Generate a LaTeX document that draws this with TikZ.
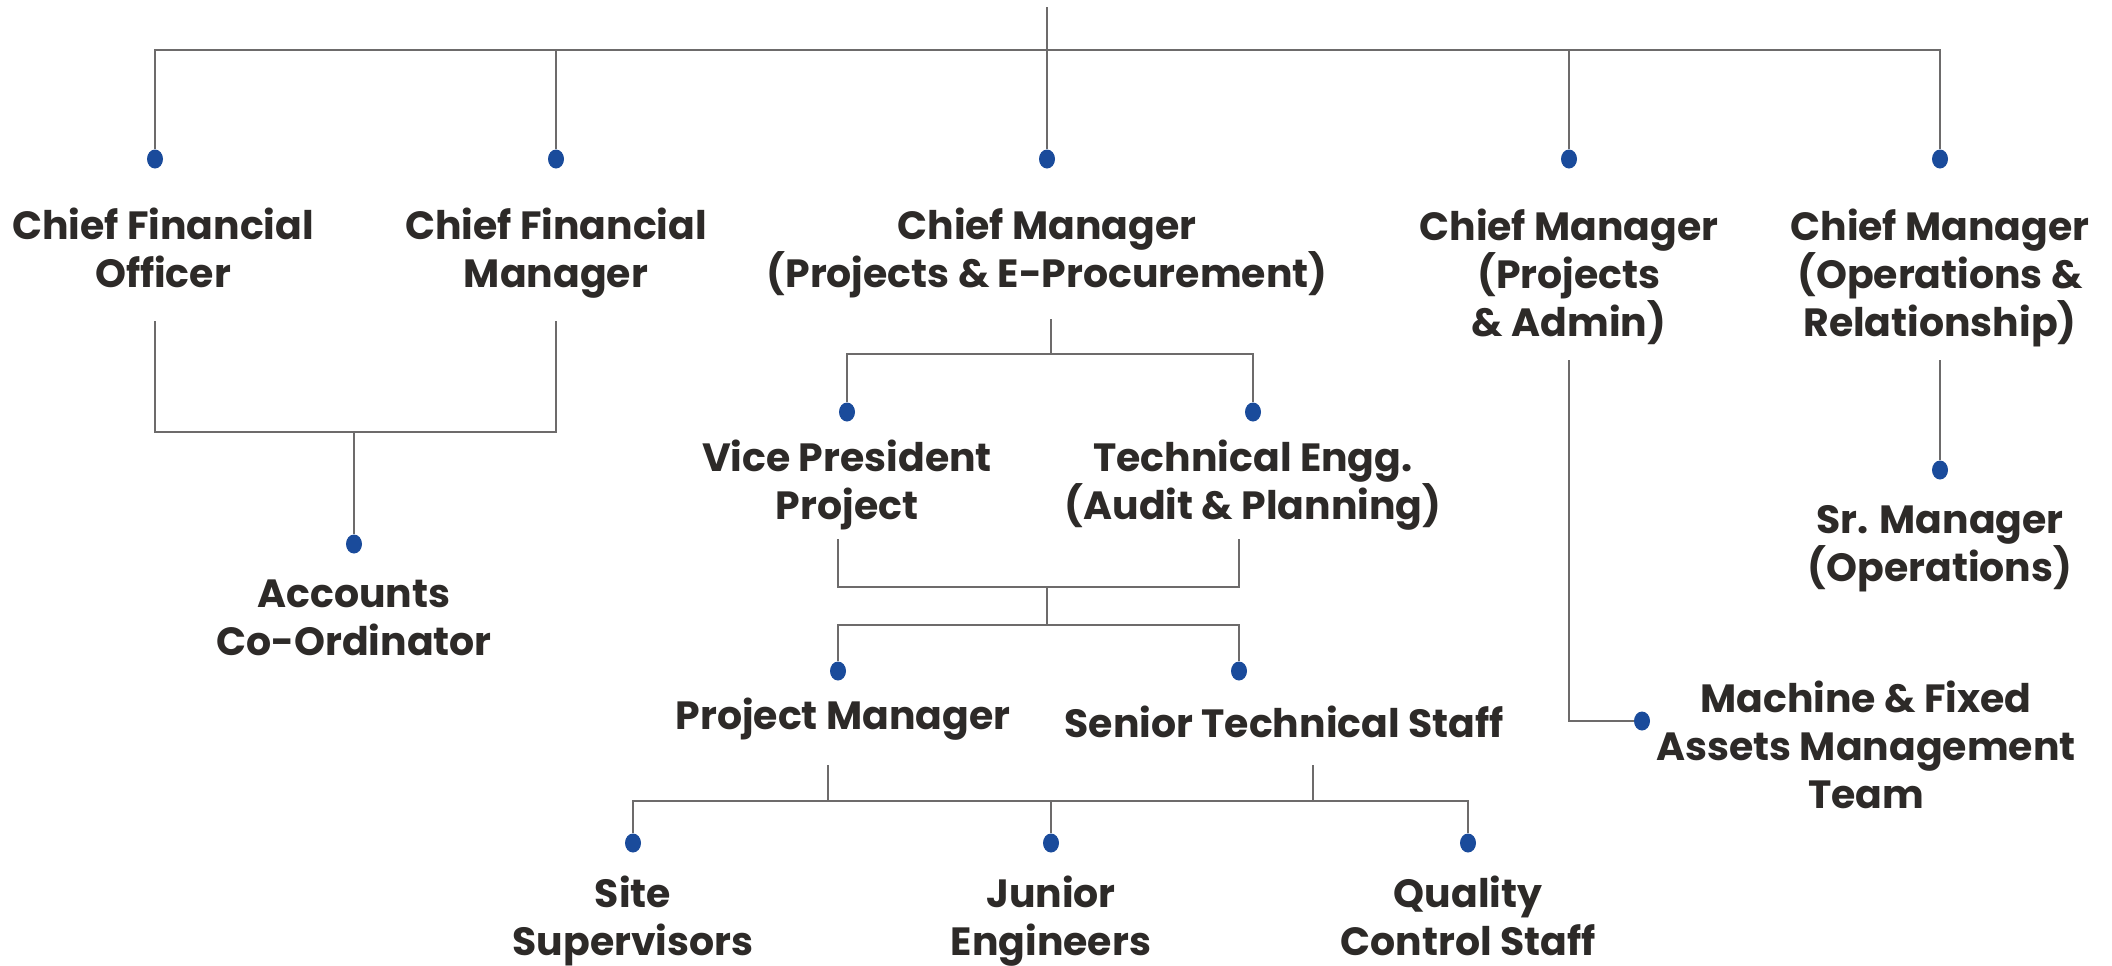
\documentclass[tikz,border=0pt]{standalone}
\usepackage{fontspec}
\setmainfont{Poppins}
\usetikzlibrary{shapes.geometric}
\definecolor{lncol}{HTML}{6D6B6B}
\definecolor{dotcol}{HTML}{1A4B9B}
\definecolor{txtcol}{HTML}{2D2A28}
\tikzset{
  ln/.style={draw=lncol, line width=1.3pt},
  dotnode/.style={ellipse, fill=dotcol, inner sep=0pt, minimum width=8pt, minimum height=9.5pt},
  lbl/.style={align=center, text=txtcol, font=\fontsize{19.7}{24.2}\selectfont\bfseries, inner sep=0pt,
    execute at begin node=\strut, execute at end node=\strut}
}
\begin{document}
\begin{tikzpicture}[x=0.5pt, y=-0.5pt]
\useasboundingbox (0,0) rectangle (2112,965);
% dots
\node[dotnode] (d1) at (155,159) {};
\node[dotnode] (d2) at (556,159) {};
\node[dotnode] (d3) at (1047,159) {};
\node[dotnode] (d4) at (1569,159) {};
\node[dotnode] (d5) at (1940,159) {};
\node[dotnode] (dacc) at (354,544) {};
\node[dotnode] (dvp) at (847,412) {};
\node[dotnode] (dte) at (1253,412) {};
\node[dotnode] (dpm) at (838,671) {};
\node[dotnode] (dsts) at (1239,671) {};
\node[dotnode] (dss) at (633,843) {};
\node[dotnode] (dje) at (1051,843) {};
\node[dotnode] (dqc) at (1468,843) {};
\node[dotnode] (dmf) at (1642,721) {};
\node[dotnode] (dsr) at (1940,470) {};
% labels
\node[lbl] (cfo) at (163,255) {Chief Financial\\Officer};
\node[lbl] (cfm) at (556,255) {Chief Financial\\Manager};
\node[lbl] (cmpe) at (1047,255) {Chief Manager\\(Projects \& E-Procurement)};
\node[lbl] (cmpa) at (1569,280) {Chief Manager\\(Projects\\\& Admin)};
\node[lbl] (cmor) at (1940,280) {Chief Manager\\(Operations \&\\Relationship)};
\node[lbl] (acc) at (354,625) {Accounts\\Co-Ordinator};
\node[lbl] (vp) at (847,487) {Vice President\\Project};
\node[lbl] (te) at (1253,487) {Technical Engg.\\(Audit \& Planning)};
\node[lbl] (pm) at (843,720) {Project Manager};
\node[lbl] (sts) at (1284,728) {Senior Technical Staff};
\node[lbl] (ss) at (633,923) {Site\\Supervisors};
\node[lbl] (je) at (1051,923) {Junior\\Engineers};
\node[lbl] (qc) at (1468,923) {Quality\\Control Staff};
\node[lbl] (mf) at (1866,752) {Machine \& Fixed\\Assets Management\\Team};
\node[lbl] (sr) at (1940,551) {Sr. Manager\\(Operations)};
% coordinates
\coordinate (top) at (1047,7);
\coordinate (bar) at (1047,50);
\coordinate (cfoB) at (155,321);
\coordinate (cfmB) at (556,321);
\coordinate (accJ) at (354,432);
\coordinate (cmpeB) at (1051,319);
\coordinate (vpJ) at (1051,354);
\coordinate (vpB) at (838,539);
\coordinate (teB) at (1239,539);
\coordinate (midJ) at (1047,587);
\coordinate (midJ2) at (1047,625);
\coordinate (pmB) at (828,765);
\coordinate (stsB) at (1313,765);
\coordinate (lowJ) at (1051,801);
\coordinate (cmpaB) at (1569,360);
\coordinate (cmorB) at (1940,360);
% connectors
\draw[ln] (top) -- (bar);
\draw[ln] (d1) -- (d1|-bar) -- (d5|-bar) -- (d5);
\draw[ln] (d2) -- (d2|-bar);
\draw[ln] (d3) -- (bar);
\draw[ln] (d4) -- (d4|-bar);
\draw[ln] (cfoB) -- (cfoB|-accJ) -- (cfmB|-accJ) -- (cfmB);
\draw[ln] (accJ) -- (dacc);
\draw[ln] (cmpeB) -- (vpJ);
\draw[ln] (dvp) -- (dvp|-vpJ) -- (dte|-vpJ) -- (dte);
\draw[ln] (vpB) -- (vpB|-midJ) -- (teB|-midJ) -- (teB);
\draw[ln] (midJ) -- (midJ2);
\draw[ln] (dpm) -- (dpm|-midJ2) -- (dsts|-midJ2) -- (dsts);
\draw[ln] (pmB) -- (pmB|-lowJ);
\draw[ln] (stsB) -- (stsB|-lowJ);
\draw[ln] (dss) -- (dss|-lowJ) -- (dqc|-lowJ) -- (dqc);
\draw[ln] (dje) -- (dje|-lowJ);
\draw[ln] (cmpaB) -- (cmpaB|-dmf) -- (dmf);
\draw[ln] (cmorB) -- (dsr);
\end{tikzpicture}
\end{document}
